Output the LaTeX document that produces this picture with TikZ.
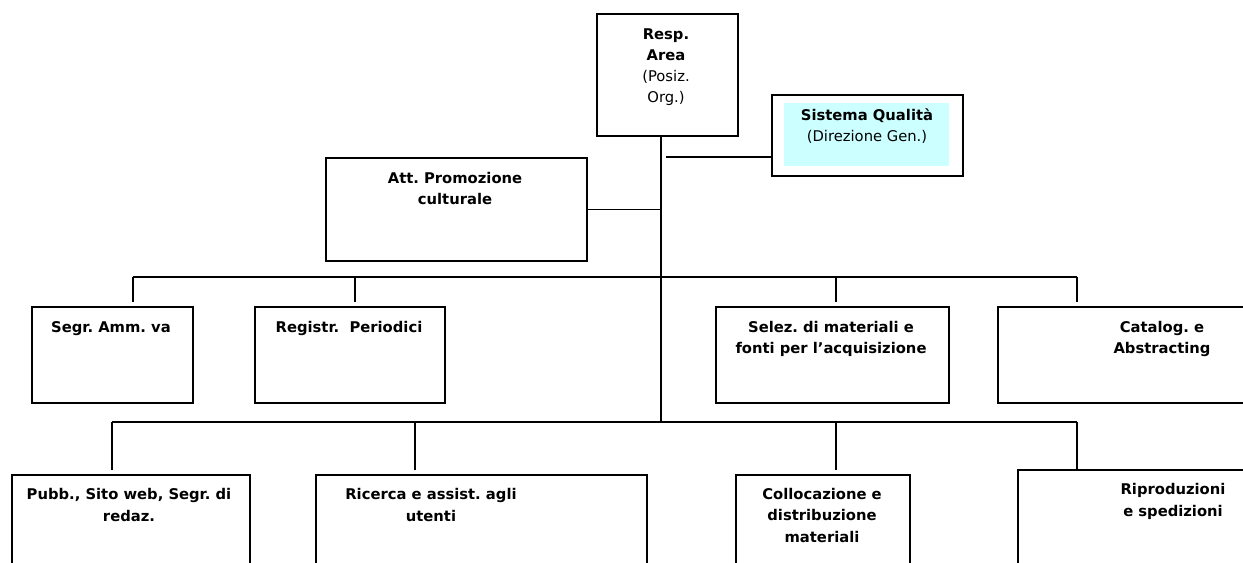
\documentclass[tikz,border=0pt]{standalone}
\usepackage{fontspec}
\setmainfont{DejaVu Sans}
\frenchspacing

\definecolor{qualfill}{HTML}{CCFFFF}

\begin{document}
\begin{tikzpicture}[x=0.02cm, y=-0.02cm,
    box/.style={draw, line width=1.1pt, inner sep=0pt, anchor=north west},
    txt/.style={align=center, anchor=base, inner sep=0pt,
                font=\fontsize{8.4}{12}\selectfont\bfseries},
    link/.style={line width=1pt}]

    % Page frame, everything outside is cut off
    \useasboundingbox (0,0) rectangle (1243,563);
    \clip (0,0) rectangle (1243,563);

    % Head of the area and the quality office beside it
    \node[box, minimum width=2.82cm, minimum height=2.44cm] (resp) at (596,13) {};
    \node[box, minimum width=3.82cm, minimum height=1.62cm] (qual) at (771,94) {};
    \fill[qualfill] (784,103) rectangle (949,166);

    % Staff box on the left of the trunk
    \node[box, minimum width=5.22cm, minimum height=2.06cm] (promo) at (325,157) {};

    % First row of offices
    \node[box, minimum width=3.22cm, minimum height=1.92cm] (segr) at (31,306) {};
    \node[box, minimum width=3.80cm, minimum height=1.92cm] (registr) at (254,306) {};
    \node[box, minimum width=4.66cm, minimum height=1.92cm] (selez) at (715,306) {};
    \node[box, minimum width=5.20cm, minimum height=1.92cm] (catal) at (997,306) {};

    % Second row of offices (they run past the page edge)
    \node[box, minimum width=4.76cm, minimum height=2.40cm] (pubb) at (11,474) {};
    \node[box, minimum width=6.62cm, minimum height=2.40cm] (ricerca) at (315,474) {};
    \node[box, minimum width=3.48cm, minimum height=2.40cm] (colloc) at (735,474) {};
    \node[box, minimum width=5.00cm, minimum height=2.50cm] (riprod) at (1017,469) {};

    % Bus lines and their junctions
    \coordinate (bus1w) at (133,277);
    \coordinate (d12) at (355,277);
    \coordinate (d13) at (836,277);
    \coordinate (bus1e) at (1077,277);
    \coordinate (bus2w) at (112,422);
    \coordinate (d22) at (415,422);
    \coordinate (d23) at (836,422);
    \coordinate (bus2e) at (1077,422);
    \coordinate (bus2) at (661,422);

    % Trunk and side links
    \draw[link] (resp.south -| bus2) -- (bus2);
    \coordinate (qlink) at ([yshift=0.4cm]qual.south west);
    \draw[link, shorten >=0.1cm] (qlink) -- (qlink -| bus2);
    \draw[link] (promo.east) -- (promo.east -| bus2);

    % First row
    \draw[link] (bus1w) -- (bus1e);
    \foreach \jn/\bx in {bus1w/segr, d12/registr, d13/selez, bus1e/catal}
        \draw[link, shorten >=0.08cm] (\jn) -- (\jn |- \bx.north);

    % Second row
    \draw[link] (bus2w) -- (bus2e);
    \foreach \jn/\bx in {bus2w/pubb, d22/ricerca, d23/colloc}
        \draw[link, shorten >=0.08cm] (\jn) -- (\jn |- \bx.north);
    \draw[link] (bus2e) -- (bus2e |- riprod.north);

    % Labels (anchored on the baseline of their last line)
    \node[txt] (resp-t) at (666,103) {Resp.\\ Area\\ \mdseries (Posiz.\\ \mdseries Org.)};
    \node[txt] (qual-t) at (867,142) {Sistema Qualità\\ \mdseries (Direzione Gen.)};
    \node[txt] (promo-t) at (455,205) {Att. Promozione\\ culturale};
    \node[txt] (segr-t) at (111,333) {Segr. Amm. va};
    \node[txt] (registr-t) at (349,333) {Registr.\ \ Periodici};
    \node[txt] (selez-t) at (831,354) {Selez. di materiali e\\ fonti per l’acquisizione};
    \node[txt] (catal-t) at (1162,354) {Catalog. e\\ Abstracting};
    \node[txt] (pubb-t) at (129,521) {Pubb., Sito web, Segr. di\\ redaz.};
    \node[txt] (ricerca-t) at (431,521) {Ricerca e assist. agli\\ utenti};
    \node[txt] (colloc-t) at (822,542) {Collocazione e\\ distribuzione\\ materiali};
    \node[txt] (riprod-t) at (1173,516) {Riproduzioni\\ e spedizioni};

\end{tikzpicture}
\end{document}
